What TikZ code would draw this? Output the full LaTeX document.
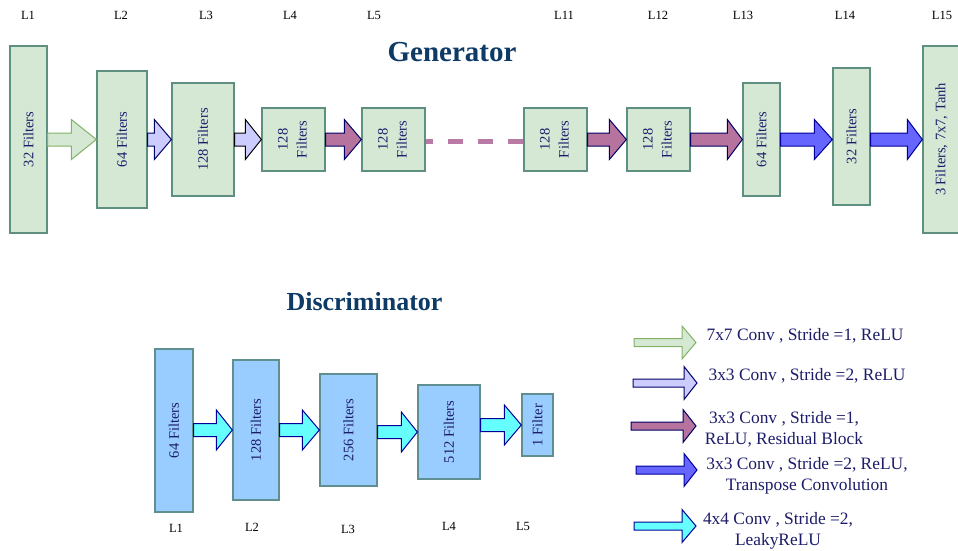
\documentclass[tikz,border=0pt]{standalone}
\usepackage{fontspec}
\setmainfont{Liberation Serif}
\usetikzlibrary{calc}

\definecolor{gfill}{HTML}{D5E8D4}
\definecolor{gline}{HTML}{5F8F80}
\definecolor{dfill}{HTML}{99CCFF}
\definecolor{dline}{HTML}{5F8F8F}
\definecolor{boxtext}{HTML}{1C1C6B}
\definecolor{titleblue}{HTML}{0E3A66}
\definecolor{agreenfill}{HTML}{D5E8D4}
\definecolor{agreenline}{HTML}{82B366}
\definecolor{alavfill}{HTML}{CCCCFF}
\definecolor{apurpfill}{HTML}{B5739D}
\definecolor{abluefill}{HTML}{6666FF}
\definecolor{acyanfill}{HTML}{66FFFF}
\definecolor{anavy}{HTML}{000066}
\definecolor{adeep}{HTML}{000099}
\definecolor{dashcol}{HTML}{BA7AA6}

\tikzset{
  layerbox/.style={draw=gline, fill=gfill, line width=1.3pt, inner sep=0pt,
    text=boxtext, font=\fontsize{14.5}{18.5}\selectfont},
  discbox/.style={draw=dline, fill=dfill, line width=1.3pt, inner sep=0pt,
    text=boxtext, font=\fontsize{14.5}{18.5}\selectfont},
  layerlabel/.style={font=\fontsize{12.5}{14}\selectfont, text=black},
  heading/.style={font=\fontsize{#1}{#1}\selectfont\bfseries, text=titleblue},
  legendtext/.style={font=\fontsize{17.4}{21}\selectfont, text=boxtext, align=center},
  greenarrow/.style={fill=agreenfill, draw=agreenline, line width=1pt},
  lavarrow/.style={fill=alavfill, draw=anavy, line width=1pt},
  lavarrowdark/.style={fill=alavfill, draw=black, line width=1pt},
  purparrow/.style={fill=apurpfill, draw=anavy, line width=1pt},
  bluearrow/.style={fill=abluefill, draw=adeep, line width=1pt},
  cyanarrow/.style={fill=acyanfill, draw=adeep, line width=1pt},
  dashline/.style={draw=dashcol, line width=5pt, dash pattern=on 15pt off 15pt},
}

% block arrow from one box to the next: style, from, to, level reference, head length
\newcommand\blockarrow[5]{%
  \draw[#1] let \p1=(#2.east), \p2=(#3.west), \p3=(#4) in
    (\x1,\y3+6.5pt) -- (\x2-#5,\y3+6.5pt) -- (\x2-#5,\y3+20pt) -- (\x2,\y3)
    -- (\x2-#5,\y3-20pt) -- (\x2-#5,\y3-6.5pt) -- (\x1,\y3-6.5pt) -- cycle;}

% small key arrow: style, start x, head x, tip x, centre y
\newcommand\keyarrow[5]{%
  \draw[#1] (#2,#5-4) -- (#3,#5-4) -- (#3,#5-16.5) -- (#4,#5)
    -- (#3,#5+16.5) -- (#3,#5+4) -- (#2,#5+4) -- cycle;}

\newcommand\vtext[1]{\rotatebox{90}{#1}}
\newcommand\vtwo[2]{\rotatebox{90}{\begin{tabular}{@{}c@{}}#1\\[0.5pt]#2\end{tabular}}}

\begin{document}
\begin{tikzpicture}[x=1pt, y=-1pt]
\useasboundingbox (0,0) rectangle (958,550);
\fill[white] (0,0) rectangle (958,550);

% ---------------- Generator ----------------
\node[heading=29] (gtitle) at (452,52) {Generator};
\coordinate (gaxis) at (0,139.5);

\node[layerbox, minimum width=37pt, minimum height=187pt] (g1)  at (28.5,139.5) {\vtext{32 Filters}};
\node[layerbox, minimum width=50pt, minimum height=137pt] (g2)  at (122,139.5)  {\vtext{64 Filters}};
\node[layerbox, minimum width=62pt, minimum height=113pt] (g3)  at (203,139.5)  {\vtext{128 Filters}};
\node[layerbox, minimum width=63pt, minimum height=63pt]  (g4)  at (293.5,139.5) {\vtwo{128}{Filters}};
\node[layerbox, minimum width=63pt, minimum height=63pt]  (g5)  at (393.5,139.5) {\vtwo{128}{Filters}};
\node[layerbox, minimum width=63pt, minimum height=63pt]  (g11) at (555.5,139.5) {\vtwo{128}{Filters}};
\node[layerbox, minimum width=63pt, minimum height=63pt]  (g12) at (658.5,139.5) {\vtwo{128}{Filters}};
\node[layerbox, minimum width=37pt, minimum height=113pt] (g13) at (761.5,139.5) {\vtext{64 Filters}};
\node[layerbox, minimum width=37pt, minimum height=137pt] (g14) at (851.5,136.5) {\vtext{32 Filters}};
\node[layerbox, minimum width=37pt, minimum height=187pt] (g15) at (941.5,139.5) {\vtext{3 Filters, 7x7, Tanh}};

\draw[dashline] ([yshift=-1.5pt]g11.west) -- ([yshift=-1.5pt]g5.east);

\blockarrow{greenarrow}{g1}{g2}{gaxis}{25pt}
\blockarrow{lavarrow}{g2}{g3}{gaxis}{17pt}
\blockarrow{lavarrowdark}{g3}{g4}{gaxis}{16pt}
\blockarrow{purparrow}{g4}{g5}{gaxis}{17pt}
\blockarrow{purparrow}{g11}{g12}{gaxis}{17pt}
\blockarrow{purparrow}{g12}{g13}{gaxis}{15pt}
\blockarrow{bluearrow}{g13}{g14}{gaxis}{18pt}
\blockarrow{bluearrow}{g14}{g15}{gaxis}{15pt}

\node[layerlabel] (gl1)  at (28,15)  {L1};
\node[layerlabel] (gl2)  at (121,15) {L2};
\node[layerlabel] (gl3)  at (206,15) {L3};
\node[layerlabel] (gl4)  at (290,15) {L4};
\node[layerlabel] (gl5)  at (374,15) {L5};
\node[layerlabel] (gl11) at (564,15) {L11};
\node[layerlabel] (gl12) at (658,15) {L12};
\node[layerlabel] (gl13) at (743,15) {L13};
\node[layerlabel] (gl14) at (845,15) {L14};
\node[layerlabel] (gl15) at (942,15) {L15};

% ---------------- Discriminator ----------------
\node[heading=26] (dtitle) at (364.5,302) {Discriminator};

\node[discbox, minimum width=38pt, minimum height=163pt] (d1) at (174,430.5) {\vtext{64 Filters}};
\node[discbox, minimum width=46pt, minimum height=140pt] (d2) at (256,430)   {\vtext{128 Filters}};
\node[discbox, minimum width=57pt, minimum height=112pt] (d3) at (348.5,430) {\vtext{256 Filters}};
\node[discbox, minimum width=62pt, minimum height=94pt]  (d4) at (449,432)   {\vtext{512 Filters}};
\node[discbox, minimum width=31pt, minimum height=62pt]  (d5) at (537.5,425) {\vtext{1 Filter}};

\blockarrow{cyanarrow}{d1}{d2}{d2.west}{16pt}
\blockarrow{cyanarrow}{d2}{d3}{d3.west}{17pt}
\blockarrow{cyanarrow}{d3}{d4}{d4.west}{16pt}
\blockarrow{cyanarrow}{d4}{d5}{d5.west}{17pt}

\node[layerlabel] (dl1) at (176,528) {L1};
\node[layerlabel] (dl2) at (252,527) {L2};
\node[layerlabel] (dl3) at (348,529) {L3};
\node[layerlabel] (dl4) at (449,526) {L4};
\node[layerlabel] (dl5) at (523,526) {L5};

% ---------------- Key ----------------
\keyarrow{greenarrow}{634}{682}{696}{342.5}
\keyarrow{lavarrow}{633}{684}{697}{383}
\keyarrow{purparrow}{631}{683}{696}{426}
\keyarrow{bluearrow}{636}{684}{697}{470}
\keyarrow{cyanarrow}{634}{682}{696}{526}

\node[legendtext] (k1) at (805,336)   {7x7 Conv , Stride =1, ReLU};
\node[legendtext] (k2) at (807,376)   {3x3 Conv , Stride =2, ReLU};
\node[legendtext] (k3) at (784,429.5) {3x3 Conv , Stride =1,\\ReLU, Residual Block};
\node[legendtext] (k4) at (807,475.5) {3x3 Conv , Stride =2, ReLU,\\Transpose Convolution};
\node[legendtext] (k5) at (778,531)   {4x4 Conv , Stride =2,\\LeakyReLU};
\end{tikzpicture}
\end{document}
